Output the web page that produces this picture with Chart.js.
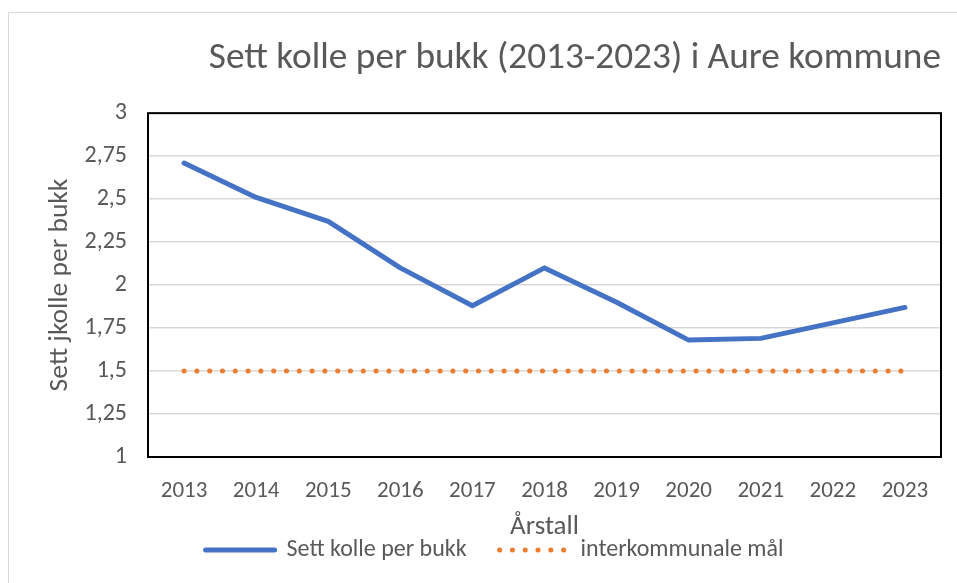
<!DOCTYPE html>
<html>
<head>
<meta charset="utf-8">
<script src="https://cdn.jsdelivr.net/npm/chart.js@4/dist/chart.umd.min.js"></script>
<style>
  html, body { margin: 0; padding: 0; background: #fff; }
  #wrap { position: relative; width: 957px; height: 583px; }
  #frame { position: absolute; left: 8px; top: 12px; width: 960px; height: 600px; border: 1px solid #d9d9d9; }
  canvas { position: absolute; left: 0; top: 0; }
</style>
</head>
<body>
<div id="wrap">
  <div id="frame"></div>
  <canvas id="chart" width="957" height="583"></canvas>
</div>
<script>
// data
const years = ['2013', '2014', '2015', '2016', '2017', '2018', '2019', '2020', '2021', '2022', '2023'];
const kollePerBukk = [2.71, 2.51, 2.37, 2.10, 1.88, 2.10, 1.90, 1.68, 1.69, 1.78, 1.87];
const interkommunaltMaal = [1.5, 1.5, 1.5, 1.5, 1.5, 1.5, 1.5, 1.5, 1.5, 1.5, 1.5];

const FONT = 'Carlito, "Liberation Sans Narrow", "Open Sans", sans-serif';
const GREY = '#595959';

Chart.defaults.font.family = FONT;
Chart.defaults.color = GREY;

// black frame round the plot area
const plotFrame = {
  id: 'plotFrame',
  afterDraw(chart) {
    const { ctx, chartArea: a } = chart;
    ctx.save();
    ctx.strokeStyle = '#000';
    ctx.lineWidth = 2;
    ctx.strokeRect(a.left, a.top, a.right - a.left, a.bottom - a.top);
    ctx.restore();
  }
};

new Chart(document.getElementById('chart').getContext('2d'), {
  type: 'line',
  data: {
    labels: years,
    datasets: [
      {
        label: 'Sett kolle per bukk',
        data: kollePerBukk,
        borderColor: '#4472C4',
        backgroundColor: '#4472C4',
        borderWidth: 5,
        borderCapStyle: 'round',
        borderJoinStyle: 'round',
        pointRadius: 0,
        tension: 0
      },
      {
        label: 'interkommunale mål',
        data: interkommunaltMaal,
        borderColor: '#ED7D31',
        backgroundColor: '#ED7D31',
        borderWidth: 5,
        borderCapStyle: 'round',
        borderDash: [0.1, 12.7],
        pointRadius: 0
      }
    ]
  },
  options: {
    responsive: false,
    animation: false,
    layout: { padding: { left: 48, right: 16, top: 0, bottom: 11 } },
    plugins: {
      title: {
        display: true,
        text: 'Sett kolle per bukk (2013-2023) i Aure kommune',
        align: 'end',
        color: GREY,
        font: { size: 37.3, weight: 'normal' },
        padding: { top: 36, bottom: 32.4 }
      },
      legend: {
        position: 'bottom',
        labels: {
          usePointStyle: true,
          pointStyle: 'line',
          pointStyleWidth: 69,
          boxHeight: 10,
          padding: 33,
          color: GREY,
          font: { size: 24 },
          // keep the dataset's dash and caps on the legend sample
          generateLabels(chart) {
            const items = Chart.defaults.plugins.legend.labels.generateLabels(chart);
            items.forEach(it => {
              const ds = chart.data.datasets[it.datasetIndex];
              it.lineDash = ds.borderDash || [];
              it.lineCap = ds.borderCapStyle || 'butt';
              it.lineWidth = ds.borderWidth;
              it.strokeStyle = ds.borderColor;
            });
            return items;
          }
        }
      },
      tooltip: { enabled: false }
    },
    scales: {
      x: {
        offset: true,
        grid: { display: false, drawTicks: false },
        border: { display: false },
        ticks: { padding: 20, color: GREY, font: { size: 23 }, maxRotation: 0 },
        title: { display: true, text: 'Årstall', color: GREY, font: { size: 27 }, padding: { top: 0, bottom: -38 } },
        afterFit: (s) => { s.height = 48; }
      },
      y: {
        min: 1,
        max: 3,
        grid: { color: '#d9d9d9', lineWidth: 1.5, drawTicks: false },
        border: { display: false },
        ticks: {
          stepSize: 0.25,
          padding: 21,
          color: GREY,
          font: { size: 24 },
          callback: (v) => String(v).replace('.', ',')
        },
        title: { display: true, text: 'Sett jkolle per bukk', color: GREY, font: { size: 27.5 }, padding: { top: -4.5, bottom: 0 } },
        afterFit: (s) => { s.width = 100; }
      }
    }
  },
  plugins: [plotFrame]
});
</script>
</body>
</html>
